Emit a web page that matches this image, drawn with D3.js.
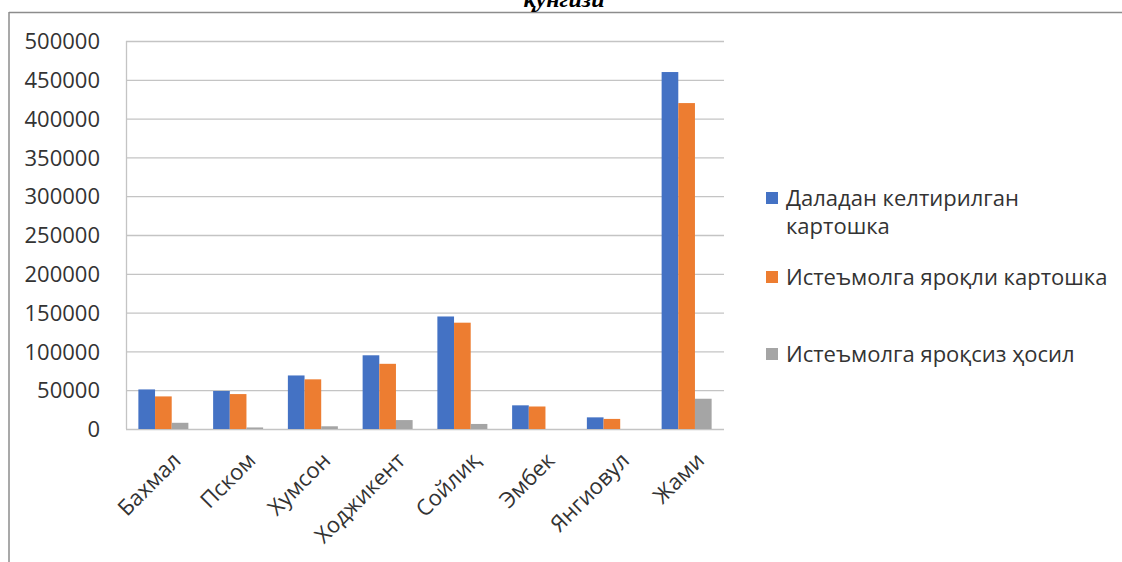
<!DOCTYPE html>
<html><head><meta charset="utf-8">
<script src="https://cdn.jsdelivr.net/npm/d3@7"></script>
<style>body{margin:0;background:#fff}svg{display:block}</style>
</head><body>
<svg id="c" width="1122" height="562"></svg>
<script>
const categories = ["Бахмал","Пском","Хумсон","Ходжикент","Сойлиқ","Эмбек","Янгиовул","Жами"];
const seriesNames = [["Даладан келтирилган","картошка"],["Истеъмолга яроқли картошка"],["Истеъмолга яроқсиз ҳосил"]];
const brought = [51000, 49000, 69000, 95000, 145000, 30500, 15000, 460000];
const edible = [42000, 45000, 64000, 84000, 137000, 29000, 13000, 420000];
const inedible = [8000, 2000, 3500, 11500, 6500, 0, 0, 39000];
const yTicks = [0,50000,100000,150000,200000,250000,300000,350000,400000,450000,500000];
const colors = ["#4472C4","#ED7D31","#A5A5A5"];
const titleText = "қунгизи";

const series = [brought, edible, inedible];
const svg = d3.select("#c");
const font = "'Open Sans', sans-serif";
const txtCol = "#333333";

// frame
svg.append("line").attr("x1",9).attr("x2",1122).attr("y1",12.5).attr("y2",12.5).attr("stroke","#8c8c8c").attr("stroke-width",1.5);
svg.append("line").attr("x1",9).attr("x2",9).attr("y1",12).attr("y2",562).attr("stroke","#8c8c8c").attr("stroke-width",1.5);

// title (cut off at top, as in the source)
svg.append("text").attr("x",564).attr("y",7).attr("text-anchor","middle")
  .attr("font-family","'Liberation Serif', serif").attr("font-style","italic").attr("font-weight","bold")
  .attr("font-size",24).attr("fill","#000").text(titleText);

const x = d3.scaleBand().domain(categories).range([126, 724]);
const y = d3.scaleLinear().domain([0,500000]).range([429, 41]);
const inner = d3.scaleBand().domain([0,1,2]).range([0, 50]);

// gridlines
svg.append("g").selectAll("line").data(yTicks).join("line")
  .attr("x1",126).attr("x2",724).attr("y1",d=>y(d)+0.5).attr("y2",d=>y(d)+0.5)
  .attr("stroke","#c4c4c4").attr("stroke-width",1.3);
// left axis line
svg.append("line").attr("x1",126.5).attr("x2",126.5).attr("y1",y(500000)).attr("y2",y(0)).attr("stroke","#c4c4c4").attr("stroke-width",1.3);

// y labels
const yAxis = d3.axisLeft(y).tickValues(yTicks).tickSize(0).tickPadding(26).tickFormat(d=>String(d));
const ga = svg.append("g").attr("transform","translate(126,0)").call(yAxis);
ga.select(".domain").remove();
ga.selectAll("text").attr("font-family",font).attr("font-size",22).attr("fill",txtCol).attr("dy","0.35em");

// bars
const off = (x.bandwidth()-50)/2;
series.forEach((s,si)=>{
  svg.append("g").selectAll("rect").data(s).join("rect")
    .attr("x",(d,i)=>x(categories[i])+off+inner(si))
    .attr("width",inner.bandwidth())
    .attr("y",d=>y(d))
    .attr("height",d=>y(0)-y(d))
    .attr("fill",colors[si]);
});

// x labels
svg.append("g").selectAll("text").data(categories).join("text")
  .attr("transform",d=>`translate(${x(d)+x.bandwidth()/2+8},451) rotate(-45)`)
  .attr("text-anchor","end").attr("dy","0.7em")
  .attr("font-family",font).attr("font-size",22).attr("fill",txtCol)
  .text(d=>d);

// legend
const legY = [198, 277, 354];
const leg = svg.append("g");
seriesNames.forEach((lines,i)=>{
  leg.append("rect").attr("x",766).attr("y",legY[i]-6).attr("width",12).attr("height",12).attr("fill",colors[i]);
  lines.forEach((t,j)=>{
    leg.append("text").attr("x",786).attr("y",legY[i]+j*28).attr("dy","0.35em")
      .attr("font-family",font).attr("font-size",22).attr("fill",txtCol).text(t);
  });
});
</script>
</body></html>
